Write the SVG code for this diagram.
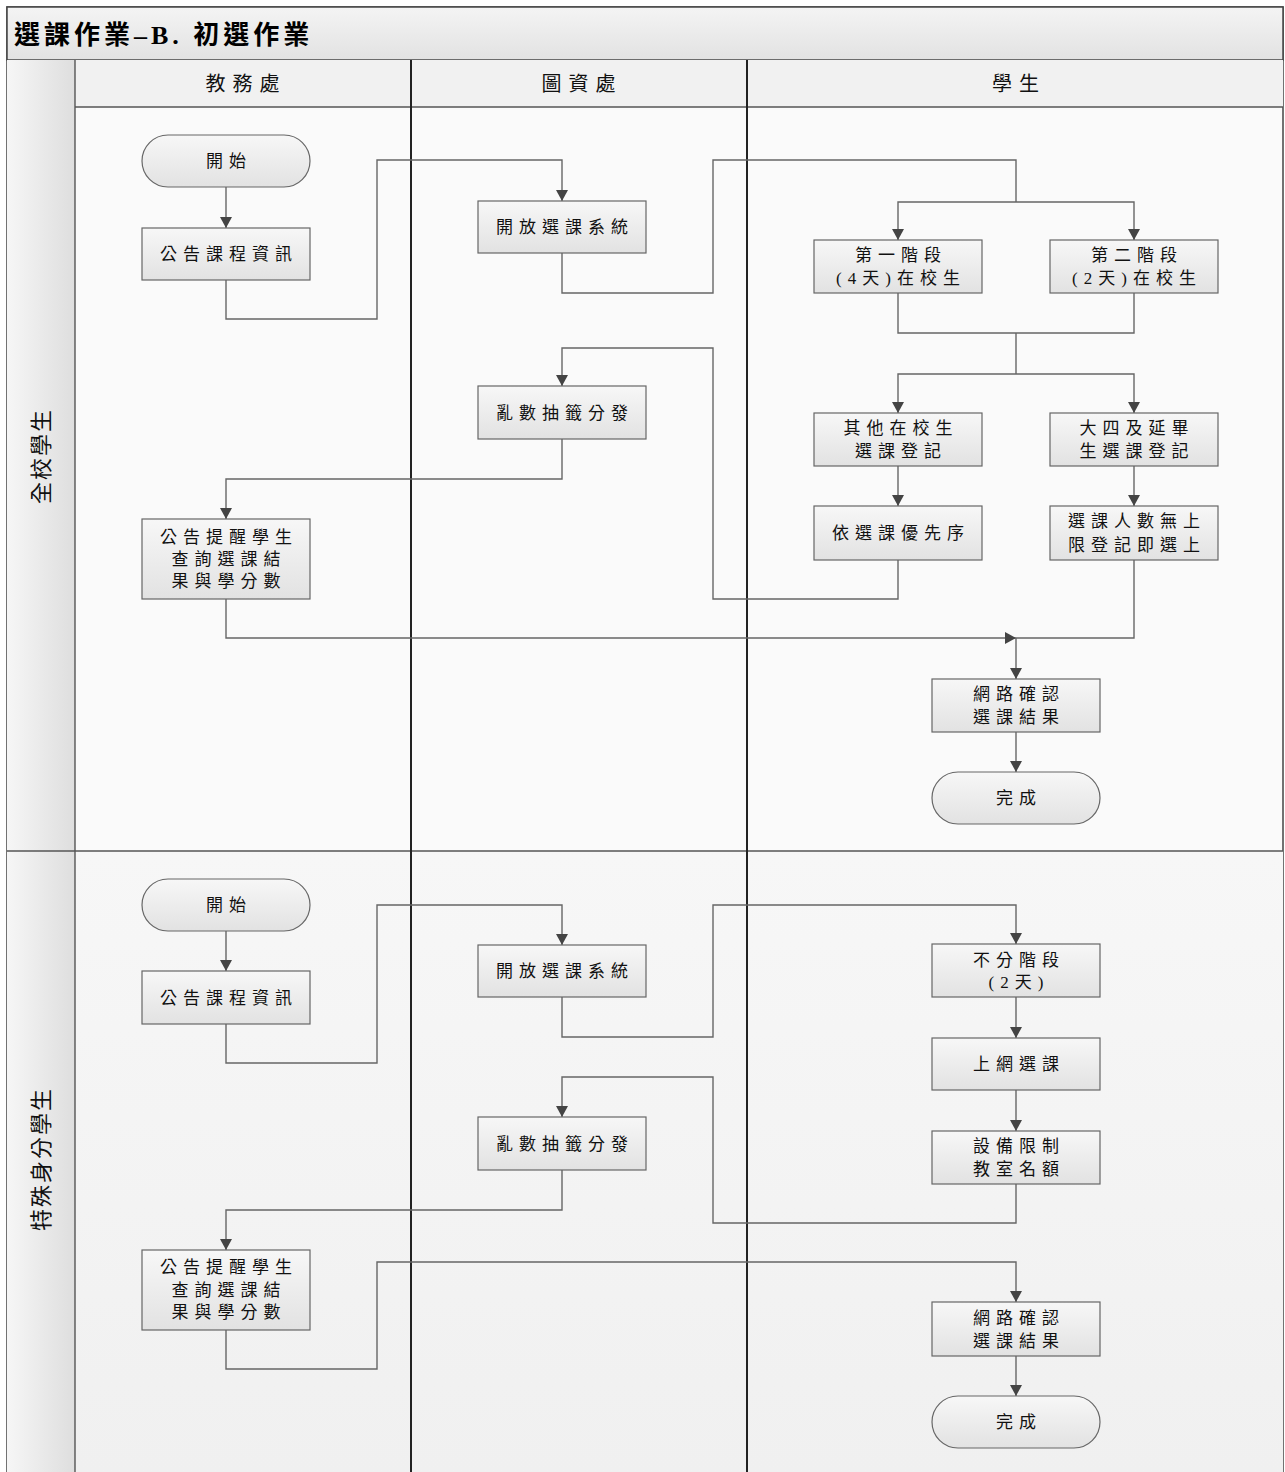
<svg xmlns="http://www.w3.org/2000/svg" width="1285" height="1472" viewBox="0 0 1285 1472">
<defs>
<linearGradient id="gNode" x1="0" y1="0" x2="0" y2="1"><stop offset="0" stop-color="#f7f7f7"/><stop offset="1" stop-color="#e2e2e2"/></linearGradient>
<linearGradient id="gTitle" x1="0" y1="0" x2="0" y2="1"><stop offset="0" stop-color="#f4f4f4"/><stop offset="1" stop-color="#e2e2e2"/></linearGradient>
<linearGradient id="gSide" x1="0" y1="0" x2="1" y2="0"><stop offset="0" stop-color="#f6f6f6"/><stop offset="1" stop-color="#dedede"/></linearGradient>
<linearGradient id="gLane2" x1="0" y1="0" x2="0" y2="1"><stop offset="0" stop-color="#f7f7f7"/><stop offset="1" stop-color="#f0f0f0"/></linearGradient>
<marker id="arr" markerUnits="userSpaceOnUse" markerWidth="14" markerHeight="14" viewBox="0 0 14 14" refX="13" refY="7" orient="auto"><path d="M2,1 L13,7 L2,13 z" fill="#444"/></marker>
</defs>
<style>
.node{fill:url(#gNode);stroke:#666;stroke-width:1.2}
.t{font-family:"Liberation Serif","Noto Sans CJK TC",serif;font-size:17px;letter-spacing:6px;fill:#111;text-anchor:middle;dominant-baseline:central}
.hd{font-family:"Liberation Serif","Noto Sans CJK TC",serif;font-size:20px;letter-spacing:7px;fill:#111;text-anchor:middle;dominant-baseline:central}
.lane{font-family:"Liberation Serif","Noto Sans CJK TC",serif;font-size:22px;letter-spacing:2px;fill:#111;text-anchor:middle;dominant-baseline:central}
.ln{fill:none;stroke:#666;stroke-width:1.4}
.la{fill:none;stroke:#666;stroke-width:1.4;marker-end:url(#arr)}
.sep{stroke:#222;stroke-width:2}
.thin{stroke:#555;stroke-width:1.4}
</style>
<g id="frame">
<rect x="7" y="7" width="1276" height="1465" fill="#fafafa" stroke="#444" stroke-width="1.5"/>
<rect x="75" y="851" width="1208" height="621" fill="url(#gLane2)"/>
<rect x="7" y="7" width="1276" height="53" fill="url(#gTitle)" stroke="#444" stroke-width="1.5"/>
<text x="14" y="35" font-family="'Liberation Serif','Noto Sans CJK TC',serif" font-size="26" font-weight="bold" letter-spacing="4" fill="#000" dominant-baseline="central">選課作業–B. 初選作業</text>
<rect x="75" y="60" width="1208" height="47" fill="#f1f1f1"/>
<rect x="7" y="60" width="68" height="1412" fill="url(#gSide)"/>
<line x1="75" y1="107" x2="1283" y2="107" class="thin"/>
<line x1="7" y1="851" x2="1283" y2="851" class="thin"/>
<line x1="75" y1="60" x2="75" y2="1472" class="thin"/>
<line x1="411" y1="60" x2="411" y2="1472" class="sep"/>
<line x1="747" y1="60" x2="747" y2="1472" class="sep"/>
<text class="hd" x="246" y="84">教務處</text>
<text class="hd" x="582" y="84">圖資處</text>
<text class="hd" x="1019" y="84">學生</text>
<text class="lane" transform="translate(41,457) rotate(-90)" x="1" y="0">全校學生</text>
<text class="lane" transform="translate(41,1160) rotate(-90)" x="1" y="0">特殊身分學生</text>
</g>
<g id="connectors">
<path class="la" d="M226,187 V228"/>
<path class="la" d="M226,280 V319 H377 V160 H562 V201"/>
<path class="ln" d="M562,253 V293 H713 V160 H1016 V202"/>
<path class="la" d="M1016,202 H898 V240"/>
<path class="la" d="M1016,202 H1134 V240"/>
<path class="ln" d="M898,293 V333 H1134 V293"/>
<path class="ln" d="M1016,333 V374"/>
<path class="la" d="M1016,374 H898 V413"/>
<path class="la" d="M1016,374 H1134 V413"/>
<path class="la" d="M898,466 V506"/>
<path class="la" d="M1134,466 V506"/>
<path class="la" d="M898,560 V599 H713 V348 H562 V386"/>
<path class="la" d="M562,439 V479 H226 V519"/>
<path class="la" d="M226,599 V638 H1016"/>
<path class="ln" d="M1134,560 V638 H1016"/>
<path class="la" d="M1016,638 V679"/>
<path class="la" d="M1016,732 V772"/>
<path class="la" d="M226,931 V971"/>
<path class="la" d="M226,1024 V1063 H377 V905 H562 V945"/>
<path class="la" d="M562,997 V1037 H713 V905 H1016 V944"/>
<path class="la" d="M1016,997 V1038"/>
<path class="la" d="M1016,1090 V1131"/>
<path class="la" d="M1016,1184 V1223 H713 V1077 H562 V1117"/>
<path class="la" d="M562,1170 V1210 H226 V1250"/>
<path class="la" d="M226,1330 V1369 H377 V1262 H1016 V1302"/>
<path class="la" d="M1016,1356 V1396"/>
</g>
<g id="n1_start"><rect class="node" x="142" y="135" width="168" height="52" rx="26"/><text class="t" x="229" y="161">開始</text></g>
<g id="n1_announce"><rect class="node" x="142" y="228" width="168" height="52"/><text class="t" x="229" y="254">公告課程資訊</text></g>
<g id="n1_open"><rect class="node" x="478" y="201" width="168" height="52"/><text class="t" x="565" y="227">開放選課系統</text></g>
<g id="n1_stage1"><rect class="node" x="814" y="240" width="168" height="53"/><text class="t" x="901" y="255">第一階段</text><text class="t" x="901" y="278">(4天)在校生</text></g>
<g id="n1_stage2"><rect class="node" x="1050" y="240" width="168" height="53"/><text class="t" x="1137" y="255">第二階段</text><text class="t" x="1137" y="278">(2天)在校生</text></g>
<g id="n1_random"><rect class="node" x="478" y="386" width="168" height="53"/><text class="t" x="565" y="413">亂數抽籤分發</text></g>
<g id="n1_other"><rect class="node" x="814" y="413" width="168" height="53"/><text class="t" x="901" y="428">其他在校生</text><text class="t" x="901" y="451">選課登記</text></g>
<g id="n1_senior"><rect class="node" x="1050" y="413" width="168" height="53"/><text class="t" x="1137" y="428">大四及延畢</text><text class="t" x="1137" y="451">生選課登記</text></g>
<g id="n1_notify"><rect class="node" x="142" y="519" width="168" height="80"/><text class="t" x="229" y="537">公告提醒學生</text><text class="t" x="229" y="559">查詢選課結</text><text class="t" x="229" y="581">果與學分數</text></g>
<g id="n1_priority"><rect class="node" x="814" y="506" width="168" height="54"/><text class="t" x="901" y="533">依選課優先序</text></g>
<g id="n1_unlimited"><rect class="node" x="1050" y="506" width="168" height="54"/><text class="t" x="1137" y="521">選課人數無上</text><text class="t" x="1137" y="545">限登記即選上</text></g>
<g id="n1_confirm"><rect class="node" x="932" y="679" width="168" height="53"/><text class="t" x="1019" y="694">網路確認</text><text class="t" x="1019" y="717">選課結果</text></g>
<g id="n1_end"><rect class="node" x="932" y="772" width="168" height="52" rx="26"/><text class="t" x="1019" y="798">完成</text></g>
<g id="n2_start"><rect class="node" x="142" y="879" width="168" height="52" rx="26"/><text class="t" x="229" y="905">開始</text></g>
<g id="n2_announce"><rect class="node" x="142" y="971" width="168" height="53"/><text class="t" x="229" y="998">公告課程資訊</text></g>
<g id="n2_open"><rect class="node" x="478" y="945" width="168" height="52"/><text class="t" x="565" y="971">開放選課系統</text></g>
<g id="n2_nostage"><rect class="node" x="932" y="944" width="168" height="53"/><text class="t" x="1019" y="960">不分階段</text><text class="t" x="1019" y="982">(2天)</text></g>
<g id="n2_online"><rect class="node" x="932" y="1038" width="168" height="52"/><text class="t" x="1019" y="1064">上網選課</text></g>
<g id="n2_limit"><rect class="node" x="932" y="1131" width="168" height="53"/><text class="t" x="1019" y="1146">設備限制</text><text class="t" x="1019" y="1169">教室名額</text></g>
<g id="n2_random"><rect class="node" x="478" y="1117" width="168" height="53"/><text class="t" x="565" y="1144">亂數抽籤分發</text></g>
<g id="n2_notify"><rect class="node" x="142" y="1250" width="168" height="80"/><text class="t" x="229" y="1267">公告提醒學生</text><text class="t" x="229" y="1290">查詢選課結</text><text class="t" x="229" y="1312">果與學分數</text></g>
<g id="n2_confirm"><rect class="node" x="932" y="1302" width="168" height="54"/><text class="t" x="1019" y="1318">網路確認</text><text class="t" x="1019" y="1341">選課結果</text></g>
<g id="n2_end"><rect class="node" x="932" y="1396" width="168" height="52" rx="26"/><text class="t" x="1019" y="1422">完成</text></g>
</svg>
